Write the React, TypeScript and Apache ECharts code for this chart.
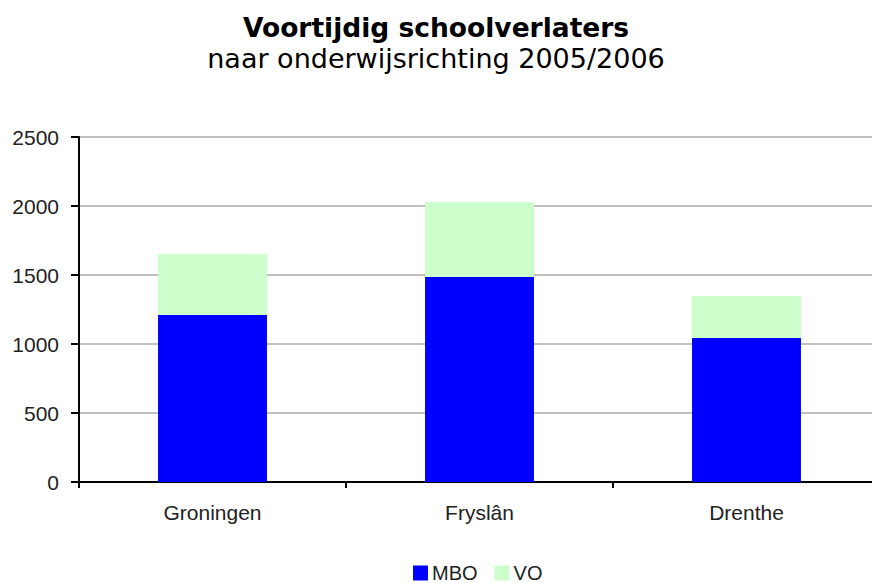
import React, { useEffect, useRef } from "react";
import * as echarts from "echarts";

const categories = ["Groningen", "Fryslân", "Drenthe"];
const mboValues = [1210, 1486, 1043];
const voValues = [442, 543, 305];
const seriesNames = ["MBO", "VO"];
const yTicks = { min: 0, max: 2500, interval: 500 };

export default function App() {
  const ref = useRef<HTMLDivElement>(null);
  useEffect(() => {
    const chart = echarts.init(ref.current!, null, { renderer: "svg" });
    chart.setOption({
      animation: false,
      backgroundColor: "#ffffff",
      title: {
        text: "Voortijdig schoolverlaters",
        subtext: "naar onderwijsrichting 2005/2006",
        left: "center",
        top: 12,
        itemGap: 1,
        padding: 0,
        textStyle: { fontFamily: "DejaVu Sans", fontSize: 26.5, fontWeight: "bold", color: "#000", lineHeight: 30 },
        subtextStyle: { fontFamily: "DejaVu Sans", fontSize: 27, color: "#000", lineHeight: 30 },
      },
      legend: {
        top: 563,
        left: 413,
        padding: 0,
        itemWidth: 15,
        itemHeight: 15,
        itemGap: 17,
        icon: "rect",
        textStyle: { fontFamily: "Liberation Sans", fontSize: 20, color: "#222", lineHeight: 20, padding: [0, 0, 0, -1] },
        data: seriesNames,
      },
      grid: { left: 79, right: -8, top: 137, bottom: 101, containLabel: false, outerBoundsMode: "none" },
      xAxis: {
        type: "category",
        data: categories,
        axisLine: { lineStyle: { color: "#000", width: 2 } },
        axisTick: { show: true, length: 6, lineStyle: { color: "#000", width: 2 } },
        axisLabel: { fontFamily: "Liberation Sans", fontSize: 21, color: "#222", margin: 20 },
      },
      yAxis: {
        type: "value",
        min: yTicks.min,
        max: yTicks.max,
        interval: yTicks.interval,
        axisLine: { show: true, lineStyle: { color: "#000", width: 2 } },
        axisTick: { show: true, length: 8, lineStyle: { color: "#000", width: 2 } },
        axisLabel: { fontFamily: "Liberation Sans", fontSize: 21, color: "#222", margin: 20, formatter: (v: number) => String(v) },
        splitLine: { lineStyle: { color: "#c0c0c0", width: 2 } },
      },
      series: [
        {
          name: seriesNames[0],
          type: "bar",
          stack: "total",
          data: mboValues,
          barWidth: "40.8%",
          itemStyle: { color: "#0000ff" },
        },
        {
          name: seriesNames[1],
          type: "bar",
          stack: "total",
          data: voValues,
          barWidth: "40.8%",
          itemStyle: { color: "#ccffcc" },
        },
      ],
    });
    return () => chart.dispose();
  }, []);
  return <div ref={ref} style={{ width: 872, height: 583, position: "absolute", left: 0, top: 0 }} />;
}
